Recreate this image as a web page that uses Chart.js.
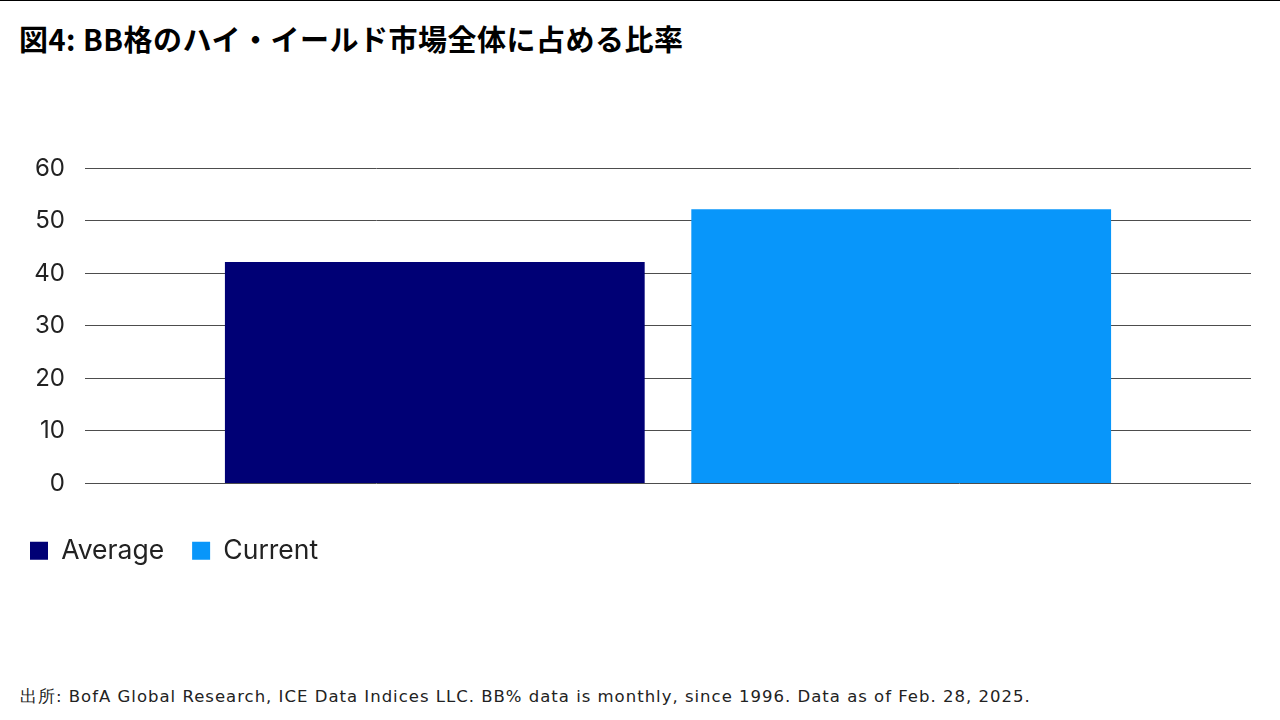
<!DOCTYPE html>
<html>
<head>
<meta charset="utf-8">
<script src="https://cdn.jsdelivr.net/npm/chart.js@4"></script>
<style>
  body { margin: 0; width: 1280px; height: 720px; background: #fff; position: relative; overflow: hidden; }
  #topline { position: absolute; left: 0; top: 0; width: 1280px; height: 1px; background: #000; }
  #title { position: absolute; left: 19px; top: 17px; font-family: "Noto Sans CJK JP"; font-weight: 700; font-size: 29px; color: #000; letter-spacing: 0.5px; }
  #chartbox { position: absolute; left: 2px; top: 134px; width: 1249px; height: 440px; }
  #source { position: absolute; left: 20px; top: 686px; font-family: "DejaVu Sans"; font-size: 16.5px; letter-spacing: 1px; color: #222; }
</style>
</head>
<body>
<div id="topline"></div>
<div id="title">図4: BB格のハイ・イールド市場全体に占める比率</div>
<div id="chartbox"><canvas id="myChart"></canvas></div>
<div id="source">出所: BofA Global Research, ICE Data Indices LLC. BB% data is monthly, since 1996. Data as of Feb. 28, 2025.</div>
<script>
var categories = [''];
var seriesNames = ['Average', 'Current'];
var averageValues = [42.2];
var currentValues = [52.2];
var yTicks = [0, 10, 20, 30, 40, 50, 60];

var myChart = "";

function drawChart(){
    const ctx = document.getElementById('myChart');
    myChart = new Chart(ctx, {
        type: 'bar',
        data: {
            labels: categories,
            datasets: [{
                label: seriesNames[0],
                data: averageValues,
                backgroundColor: '#000075',
                borderWidth: 0
            },
            {
                label: seriesNames[1],
                data: currentValues,
                backgroundColor: '#0896FA',
                borderWidth: 0
            }]
        },
        options: {
            responsive: true,
            maintainAspectRatio: false,
            animation: false,
            layout: { padding: { top: 14, right: 0, bottom: 0, left: 0 } },
            plugins: {
                tooltip: { enabled: false },
                legend: {
                    position: 'bottom',
                    align: 'start',
                    labels: {
                        boxWidth: 18,
                        boxHeight: 18,
                        padding: 28,
                        color: '#222',
                        font: { family: 'Inter', size: 26.5 }
                    }
                }
            },
            scales: {
                x: {
                    display: true,
                    grid: { display: false },
                    border: { display: false },
                    ticks: { display: false },
                    afterFit: function(axis){ axis.height = 26; }
                },
                y: {
                    min: 0,
                    max: 60,
                    afterBuildTicks: function(axis){ axis.ticks = yTicks.map(function(v){ return { value: v }; }); },
                    afterFit: function(axis){ axis.width = 83; },
                    border: { display: false },
                    grid: { color: '#4d4d4d', lineWidth: 1, drawTicks: false },
                    ticks: {
                        padding: 20,
                        color: '#222',
                        font: { family: 'Inter', size: 24 }
                    }
                }
            }
        }
    });
}

drawChart();
</script>
</body>
</html>
